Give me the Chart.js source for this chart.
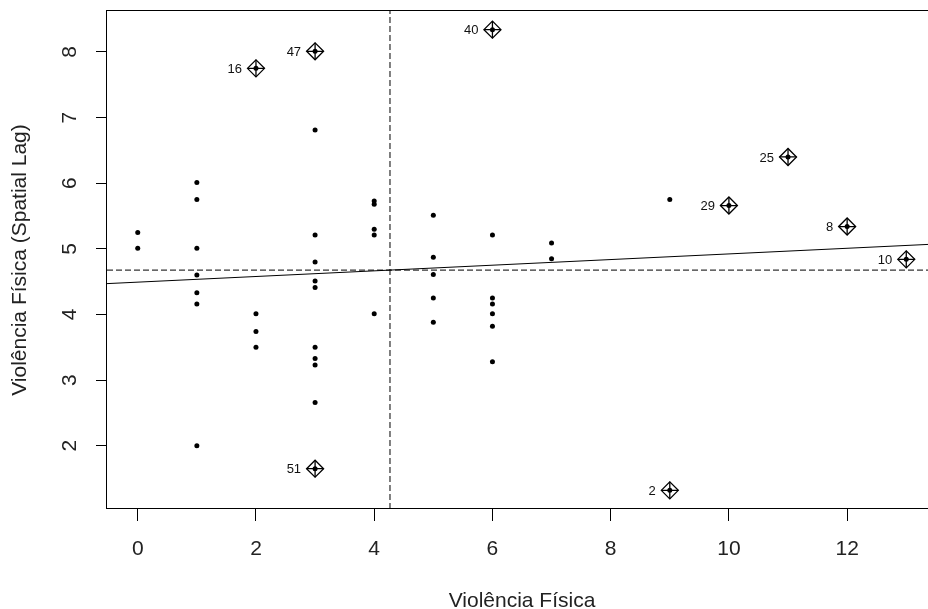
<!DOCTYPE html>
<html lang="pt">
<head>
<meta charset="UTF-8">
<title>Moran scatterplot - Violência Física</title>
<script src="https://cdn.jsdelivr.net/npm/chart.js"></script>
<style>
  html, body { margin: 0; padding: 0; background: #fff; overflow: hidden; }
  #wrap { width: 928px; height: 609px; overflow: hidden; }
</style>
</head>
<body>
<div id="wrap"><canvas id="viz" width="940" height="609"></canvas></div>
<script>
const violencia = [
  0, 0,
  1, 1, 1, 1, 1, 1, 1,
  2, 2, 2, 2,
  3, 3, 3, 3, 3, 3, 3, 3, 3, 3, 3,
  4, 4, 4, 4, 4,
  5, 5, 5, 5, 5,
  6, 6, 6, 6, 6, 6, 6,
  7, 7,
  9, 9,
  10, 11, 12, 13
]
const spatialLag = [
  5.25, 5.01,
  6.01, 5.75, 5.01, 4.60, 4.33, 4.16, 2.00,
  7.75, 4.01, 3.74, 3.50,
  8.01, 6.81, 5.21, 4.80, 4.51, 4.41, 3.50, 3.33, 3.23, 2.66, 1.65,
  5.73, 5.68, 5.30, 5.21, 4.01,
  5.51, 4.87, 4.61, 4.25, 3.88,
  8.34, 5.21, 4.25, 4.16, 4.01, 3.82, 3.28,
  5.09, 4.85,
  5.75, 1.32,
  5.66, 6.40, 5.34, 4.84
]

// influential observations (diamonds) and their ids
const inflIds = ['16', '47', '40', '25', '29', '8', '10', '2', '51']
const inflX = [2, 3, 6, 11, 10, 12, 13, 9, 3]
const inflY = [7.75, 8.01, 8.34, 6.40, 5.66, 5.34, 4.84, 1.32, 1.65]

const xTicks = [0, 2, 4, 6, 8, 10, 12]
const yTicks = [2, 3, 4, 5, 6, 7, 8]
const xRange = [-0.52, 13.52]
const yRange = [1.036, 8.624]

// means and regression slope
const meanX = 4.267
const meanY = 4.676
const slope = 0.043

const fontFamily = '"Liberation Sans", Arial, sans-serif'

const fitY = x => meanY + slope * (x - meanX)

// drop the extra room chart.js keeps for overhanging tick labels
const noOverhang = s => {
  s.paddingTop = 0
  s.paddingBottom = 0
  s.paddingLeft = 0
  s.paddingRight = 0
}

const boxPlugin = {
  id: 'box',
  afterDraw(chart) {
    const { ctx, chartArea: a } = chart
    ctx.save()
    ctx.strokeStyle = '#000'
    ctx.lineWidth = 1
    ctx.strokeRect(Math.round(a.left) - 0.5, Math.round(a.top) - 0.5,
      Math.round(a.right - a.left), Math.round(a.bottom - a.top))
    ctx.restore()
  }
}

const labelPlugin = {
  id: 'ids',
  afterDatasetsDraw(chart) {
    const { ctx, scales } = chart
    ctx.save()
    ctx.font = '13px ' + fontFamily
    ctx.fillStyle = '#111'
    ctx.textAlign = 'right'
    ctx.textBaseline = 'middle'
    inflIds.forEach((id, i) => {
      const px = scales.x.getPixelForValue(inflX[i])
      const py = scales.y.getPixelForValue(inflY[i])
      ctx.fillText(id, px - 14, py + 1)
    })
    ctx.restore()
  }
}

const viz = document.getElementById('viz')

new Chart(viz, {
  type: 'scatter',
  data: {
    datasets: [
      {
        label: 'influential',
        data: inflX.map((x, i) => ({ x, y: inflY[i] })),
        pointStyle: 'rectRot',
        pointRadius: 8.5,
        borderColor: '#000',
        borderWidth: 1.3,
        backgroundColor: 'rgba(0,0,0,0)'
      },
      {
        label: 'influential cross',
        data: inflX.map((x, i) => ({ x, y: inflY[i] })),
        pointStyle: 'cross',
        pointRadius: 8.5,
        borderColor: '#000',
        borderWidth: 1.3
      },
      {
        label: 'obs',
        data: violencia.map((x, i) => ({ x, y: spatialLag[i] })),
        pointRadius: 2.5,
        borderWidth: 0,
        backgroundColor: '#000'
      },
      {
        label: 'fit',
        data: xRange.map(x => ({ x, y: fitY(x) })),
        showLine: true,
        pointRadius: 0,
        borderColor: '#000',
        borderWidth: 1
      },
      {
        label: 'mean x',
        data: yRange.map(y => ({ x: meanX, y })),
        showLine: true,
        pointRadius: 0,
        borderColor: '#000',
        borderWidth: 1,
        borderDash: [6, 3]
      },
      {
        label: 'mean y',
        data: xRange.map(x => ({ x, y: meanY })),
        showLine: true,
        pointRadius: 0,
        borderColor: '#000',
        borderWidth: 1,
        borderDash: [6, 3]
      }
    ]
  },
  options: {
    responsive: false,
    animation: false,
    devicePixelRatio: 1,
    layout: { autoPadding: false, padding: { top: 11, right: 3, left: 0, bottom: 0 } },
    plugins: {
      legend: { display: false },
      tooltip: { enabled: false }
    },
    scales: {
      x: {
        type: 'linear',
        min: xRange[0],
        max: xRange[1],
        afterBuildTicks: s => { s.ticks = xTicks.map(v => ({ value: v })) },
        afterFit: s => { s.height = 100; noOverhang(s) },
        border: { display: false },
        grid: { drawOnChartArea: false, tickLength: 12, color: '#000' },
        ticks: { padding: 16, color: '#222', font: { family: fontFamily, size: 21 } },
        title: {
          display: true,
          text: 'Violência Física',
          color: '#222',
          font: { family: fontFamily, size: 21, lineHeight: 1 },
          padding: { top: 0, bottom: -3 }
        }
      },
      y: {
        type: 'linear',
        min: yRange[0],
        max: yRange[1],
        afterBuildTicks: s => { s.ticks = yTicks.map(v => ({ value: v })) },
        afterFit: s => { s.width = 107; noOverhang(s) },
        border: { display: false },
        grid: { drawOnChartArea: false, tickLength: 11, color: '#000' },
        ticks: {
          minRotation: 90,
          maxRotation: 90,
          crossAlign: 'center',
          padding: 20,
          color: '#222',
          font: { family: fontFamily, size: 21 }
        },
        title: {
          display: true,
          text: 'Violência Física (Spatial Lag)',
          color: '#222',
          font: { family: fontFamily, size: 21, lineHeight: 1 },
          padding: { top: 10, bottom: 0 }
        }
      }
    }
  },
  plugins: [boxPlugin, labelPlugin]
})
</script>
</body>
</html>
